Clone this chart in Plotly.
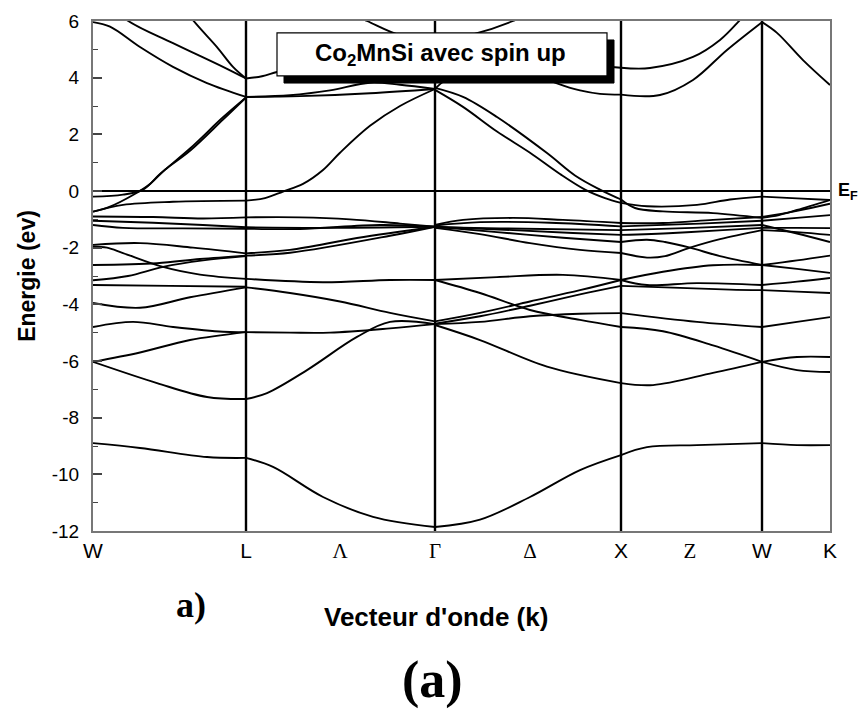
import plotly.graph_objects as go

# ---------------- data ----------------
# high-symmetry points along the k-path (W-L-Gamma-X-W-K)
sym_k = [0.0, 1.53, 3.42, 5.28, 6.69, 7.37]
label_k = [0.0, 1.53, 2.47, 3.42, 4.37, 5.28, 5.97, 6.69, 7.37]
label_txt = ["W", "L", "Λ", "Γ", "Δ", "X", "Z", "W", "K"]
serif_labels = ["Λ", "Γ", "Δ", "Z"]

e_ticks = [-12, -10, -8, -6, -4, -2, 0, 2, 4, 6]
e_tick_labels = ["-12", "-10", "-8", "-6", "-4", "-2", "0", "2", "4", "6"]

# bands, segment by segment: lists of (k, E[eV])
bands_W_L = [
    [(0, 5.96), (0.17, 5.8), (0.47, 5.08), (0.80, 4.38), (1.14, 3.81), (1.53, 3.32)],
    [(0, 7.1), (0.34, 6.03), (0.80, 5.22), (1.30, 4.38), (1.53, 3.97)],
    [(0.57, 8.0), (1.00, 6.03), (1.24, 5.08), (1.40, 4.38), (1.53, 3.97)],
    [(0, -0.2), (0.30, -0.13), (0.50, 0.05), (0.67, 0.6), (0.97, 1.5), (1.30, 2.6), (1.53, 3.3)],
    [(0, -0.73), (0.17, -0.55), (0.40, -0.14), (0.57, 0.25), (0.72, 0.75), (0.97, 1.42), (1.30, 2.52), (1.53, 3.3)],
    [(0, -0.73), (0.30, -0.49), (0.80, -0.38), (1.53, -0.34)],
    [(0, -0.9), (0.6, -0.92), (1.1, -0.97), (1.53, -0.93)],
    [(0, -1.05), (0.6, -1.12), (1.1, -1.2), (1.53, -1.28)],
    [(0, -1.2), (0.3, -1.3), (0.9, -1.32), (1.53, -1.33)],
    [(0, -1.9), (0.47, -1.84), (1.0, -2.0), (1.53, -2.2)],
    [(0, -1.96), (0.14, -2.0), (0.30, -2.19), (0.70, -2.68), (1.07, -2.95), (1.53, -3.1)],
    [(0, -2.61), (0.64, -2.55), (1.07, -2.4), (1.53, -2.28)],
    [(0, -3.15), (0.35, -3.0), (0.70, -2.68), (1.10, -2.45), (1.53, -2.3)],
    [(0, -3.32), (0.77, -3.35), (1.53, -3.38)],
    [(0, -3.95), (0.47, -4.12), (0.97, -3.75), (1.53, -3.4)],
    [(0, -4.8), (0.40, -4.62), (0.80, -4.8), (1.30, -4.97), (1.53, -4.98)],
    [(0, -6.03), (0.47, -5.7), (0.97, -5.26), (1.53, -4.98)],
    [(0, -6.03), (0.64, -6.78), (1.14, -7.27), (1.53, -7.34)],
    [(0, -8.9), (0.47, -9.07), (1.14, -9.39), (1.53, -9.42)],
]

bands_L_G = [
    [(1.53, 3.32), (2.07, 3.35), (2.77, 3.45), (3.42, 3.6)],
    [(1.53, 3.32), (1.97, 3.38), (2.37, 3.55), (2.77, 3.82), (3.07, 3.75), (3.42, 3.6)],
    [(1.53, 3.97), (1.69, 4.05), (1.84, 4.2), (2.27, 4.6), (2.87, 4.9), (3.42, 5.0)],
    [(2.37, 6.6), (2.74, 6.0), (3.07, 5.5), (3.42, 5.3)],
    [(1.53, -0.34), (1.72, -0.25), (1.90, -0.02), (2.10, 0.25), (2.30, 0.74), (2.47, 1.35),
     (2.77, 2.3), (3.07, 3.0), (3.42, 3.6)],
    [(1.53, -0.93), (2.07, -0.93), (2.57, -1.0), (3.07, -1.15), (3.42, -1.26)],
    [(1.53, -1.28), (2.27, -1.3), (3.42, -1.26)],
    [(1.53, -1.33), (2.07, -1.34), (2.87, -1.2), (3.42, -1.26)],
    [(1.53, -2.2), (1.97, -2.08), (2.64, -1.66), (3.42, -1.26)],
    [(1.53, -2.28), (1.97, -2.18), (2.97, -1.58), (3.42, -1.26)],
    [(1.53, -3.1), (2.30, -3.22), (2.97, -3.14), (3.42, -3.14)],
    [(1.53, -3.4), (1.97, -3.6), (2.47, -3.9), (2.97, -4.3), (3.42, -4.6)],
    [(1.53, -4.98), (1.97, -5.0), (2.37, -5.0), (2.97, -4.85), (3.42, -4.7)],
    [(1.53, -7.34), (1.74, -7.13), (2.14, -6.32), (2.64, -5.15), (2.97, -4.62), (3.42, -4.7)],
    [(1.53, -9.42), (1.80, -9.74), (2.30, -10.8), (2.80, -11.5), (3.42, -11.86)],
]

bands_G_X = [
    [(3.42, 3.57), (3.70, 2.97), (4.04, 2.1), (4.37, 1.35), (4.67, 0.6), (4.92, 0.05), (5.12, -0.25), (5.28, -0.42)],
    [(3.42, 3.64), (3.70, 3.32), (4.04, 2.61), (4.54, 1.34), (4.82, 0.55), (5.07, 0.05), (5.28, -0.3)],
    [(3.42, 3.6), (3.52, 3.9), (3.77, 4.25), (4.17, 4.3), (4.47, 4.05), (4.64, 3.8), (4.87, 3.55), (5.07, 3.43), (5.28, 3.4)],
    [(3.42, 5.0), (4.07, 4.9), (4.67, 4.6), (5.07, 4.42), (5.28, 4.35)],
    [(3.42, 5.3), (3.77, 5.5), (4.20, 6.0), (4.47, 6.5)],
    [(3.42, -1.2), (3.70, -1.02), (4.20, -0.95), (4.70, -1.02), (5.28, -1.13)],
    [(3.42, -1.22), (3.87, -1.1), (4.57, -1.12), (5.28, -1.25)],
    [(3.42, -1.28), (4.07, -1.32), (5.28, -1.38)],
    [(3.42, -1.26), (4.20, -1.38), (4.80, -1.48), (5.28, -1.55)],
    [(3.42, -1.26), (4.04, -1.45), (4.70, -1.65), (5.28, -1.8)],
    [(3.42, -1.3), (3.87, -1.52), (4.37, -1.84), (4.87, -2.08), (5.28, -2.19)],
    [(3.42, -3.14), (4.04, -3.04), (4.70, -2.96), (5.28, -3.14)],
    [(3.42, -3.14), (3.87, -3.6), (4.37, -4.2), (4.87, -4.55), (5.28, -4.8)],
    [(3.42, -4.6), (3.87, -4.3), (4.37, -3.9), (4.87, -3.5), (5.28, -3.14)],
    [(3.42, -4.68), (3.87, -4.42), (4.37, -4.05), (4.87, -3.65), (5.28, -3.35)],
    [(3.42, -4.7), (3.87, -4.62), (4.37, -4.42), (4.87, -4.33), (5.28, -4.31)],
    [(3.42, -4.73), (3.87, -5.26), (4.54, -6.2), (5.28, -6.78)],
    [(3.42, -11.86), (3.87, -11.6), (4.37, -10.8), (4.87, -9.85), (5.28, -9.32)],
]

bands_X_W = [
    [(5.28, -0.42), (5.54, -0.54), (6.04, -0.49), (6.37, -0.3), (6.69, -0.2)],
    [(5.28, -0.3), (5.42, -0.6), (5.70, -0.72), (6.20, -0.78), (6.69, -0.95)],
    [(5.28, 3.4), (5.67, 3.39), (6.0, 3.92), (6.34, 4.98), (6.69, 5.96)],
    [(5.28, 4.35), (5.57, 4.34), (6.0, 4.73), (6.27, 5.33), (6.45, 5.96), (6.65, 6.8)],
    [(5.28, -1.13), (5.70, -1.13), (6.20, -1.02), (6.69, -0.92)],
    [(5.28, -1.25), (6.07, -1.15), (6.69, -1.05)],
    [(5.28, -1.38), (6.0, -1.3), (6.69, -1.2)],
    [(5.28, -1.55), (5.8, -1.48), (6.3, -1.38), (6.69, -1.3)],
    [(5.28, -1.8), (5.54, -1.72), (5.72, -1.8), (5.97, -2.0), (6.27, -2.3), (6.69, -2.61)],
    [(5.28, -2.19), (5.54, -2.35), (5.72, -2.3), (5.97, -2.0), (6.27, -1.7), (6.69, -1.38)],
    [(5.28, -3.14), (5.70, -2.85), (6.20, -2.62), (6.69, -2.61)],
    [(5.28, -3.14), (5.54, -3.32), (6.04, -3.25), (6.69, -3.32)],
    [(5.28, -3.35), (5.87, -3.42), (6.37, -3.48), (6.69, -3.5)],
    [(5.28, -4.31), (6.04, -4.62), (6.69, -4.8)],
    [(5.28, -4.8), (5.70, -4.95), (6.20, -5.45), (6.69, -6.03)],
    [(5.28, -6.78), (5.60, -6.85), (6.20, -6.42), (6.69, -6.03)],
    [(5.28, -9.32), (5.54, -9.04), (6.04, -8.97), (6.69, -8.9)],
]

bands_W_K = [
    [(6.69, -0.2), (7.04, -0.26), (7.37, -0.32)],
    [(6.69, -0.95), (6.86, -0.85), (7.04, -0.67), (7.37, -0.32)],
    [(6.69, -0.92), (7.04, -0.7), (7.37, -0.45)],
    [(6.69, -1.05), (7.04, -0.95), (7.37, -0.85)],
    [(6.69, -1.2), (7.04, -1.5), (7.37, -1.8)],
    [(6.69, -1.3), (7.04, -1.3), (7.37, -1.31)],
    [(6.69, -1.38), (7.04, -1.45), (7.37, -1.55)],
    [(6.69, -2.61), (7.04, -2.45), (7.37, -2.28)],
    [(6.69, -2.61), (7.04, -2.75), (7.37, -2.89)],
    [(6.69, -3.32), (7.04, -3.2), (7.37, -3.07)],
    [(6.69, -3.5), (7.04, -3.55), (7.37, -3.6)],
    [(6.69, -4.8), (7.04, -4.62), (7.37, -4.45)],
    [(6.69, -6.03), (7.04, -5.86), (7.37, -5.86)],
    [(6.69, -6.03), (7.04, -6.32), (7.37, -6.39)],
    [(6.69, -8.9), (7.04, -8.97), (7.37, -8.97)],
    [(6.69, 5.96), (6.84, 5.58), (7.10, 4.62), (7.37, 3.74)],
]

title_text = "Co<sub>2</sub>MnSi avec spin up"
x_title = "Vecteur d'onde (k)"
y_title = "Energie (ev)"

# ---------------- figure ----------------
fig = go.Figure()
for seg in (bands_W_L, bands_L_G, bands_G_X, bands_X_W, bands_W_K):
    for band in seg:
        fig.add_trace(go.Scatter(
            x=[p[0] for p in band], y=[p[1] for p in band],
            mode="lines", line=dict(color="black", width=1.9, shape="spline", smoothing=1.0),
            hoverinfo="skip", showlegend=False, cliponaxis=True))

# vertical lines at the inner high-symmetry points
for kx in sym_k[1:-1]:
    fig.add_shape(type="line", x0=kx, x1=kx, y0=0, y1=1, xref="x", yref="paper",
                  line=dict(color="black", width=2.4), layer="above")

# title box with shadow
fig.add_shape(type="rect", x0=1.91, x1=5.21, y0=3.81, y1=5.33, xref="x", yref="y",
              fillcolor="black", line=dict(color="black", width=1), layer="above")
fig.add_shape(type="rect", x0=1.84, x1=5.14, y0=4.06, y1=5.58, xref="x", yref="y",
              fillcolor="white", line=dict(color="black", width=1.2), layer="above")
fig.add_annotation(x=3.47, y=4.82, xref="x", yref="y", text="<b>" + title_text + "</b>",
                   showarrow=False, xanchor="center", yanchor="middle",
                   font=dict(family="Liberation Sans", size=24, color="black"))

tick_text = [("<span style='font-family:Liberation Serif'>%s</span>" % t) if t in serif_labels else t
             for t in label_txt]

fig.update_xaxes(range=[sym_k[0], sym_k[-1]], tickvals=label_k, ticktext=tick_text,
                 ticks="", showgrid=False, zeroline=False,
                 showline=True, linecolor="#777", linewidth=2, mirror=True,
                 tickfont=dict(family="Liberation Sans", size=21, color="black"),
                 ticklabelstandoff=0)
fig.update_yaxes(range=[-12, 6], tickvals=e_ticks, ticktext=e_tick_labels,
                 ticks="inside", ticklen=9, tickwidth=1.5, tickcolor="#444",
                 minor=dict(dtick=1, tick0=0, ticks="inside", ticklen=5, tickwidth=1.2, tickcolor="#444"),
                 showgrid=False, zeroline=True, zerolinecolor="black", zerolinewidth=2,
                 showline=True, linecolor="#777", linewidth=2, mirror=True,
                 tickfont=dict(family="Liberation Sans", size=19, color="black"),
                 ticklabelstandoff=8,
                 title=dict(text="<b>" + y_title + "</b>", standoff=10,
                            font=dict(family="Liberation Sans", size=23, color="black")))

# x-axis title placed like the reference (left of the plot centre)
fig.add_annotation(x=0.466, y=-0.168, xref="paper", yref="paper", text="<b>" + x_title + "</b>",
                   showarrow=False, xanchor="center", yanchor="middle",
                   font=dict(family="Liberation Sans", size=26, color="black"))
fig.add_annotation(x=1.0, y=0, xref="paper", yref="y", xshift=6, text="<b>E<sub>F</sub></b>",
                   showarrow=False, xanchor="left", yanchor="middle",
                   font=dict(family="Liberation Sans", size=18, color="black"))
fig.add_annotation(x=0.133, y=-0.145, xref="paper", yref="paper", text="<b>a)</b>",
                   showarrow=False, xanchor="center", yanchor="middle",
                   font=dict(family="Liberation Serif", size=36, color="black"))
fig.add_annotation(x=0.460, y=-0.292, xref="paper", yref="paper", text="<b>(a)</b>",
                   showarrow=False, xanchor="center", yanchor="middle",
                   font=dict(family="Liberation Serif", size=52, color="black"))

fig.update_layout(width=864, height=722, margin=dict(l=93, r=34, t=21, b=191),
                  paper_bgcolor="white", plot_bgcolor="white", showlegend=False)

fig.write_html("out.html", config={"displayModeBar": False},
               post_script="document.body.style.margin='0px';")
